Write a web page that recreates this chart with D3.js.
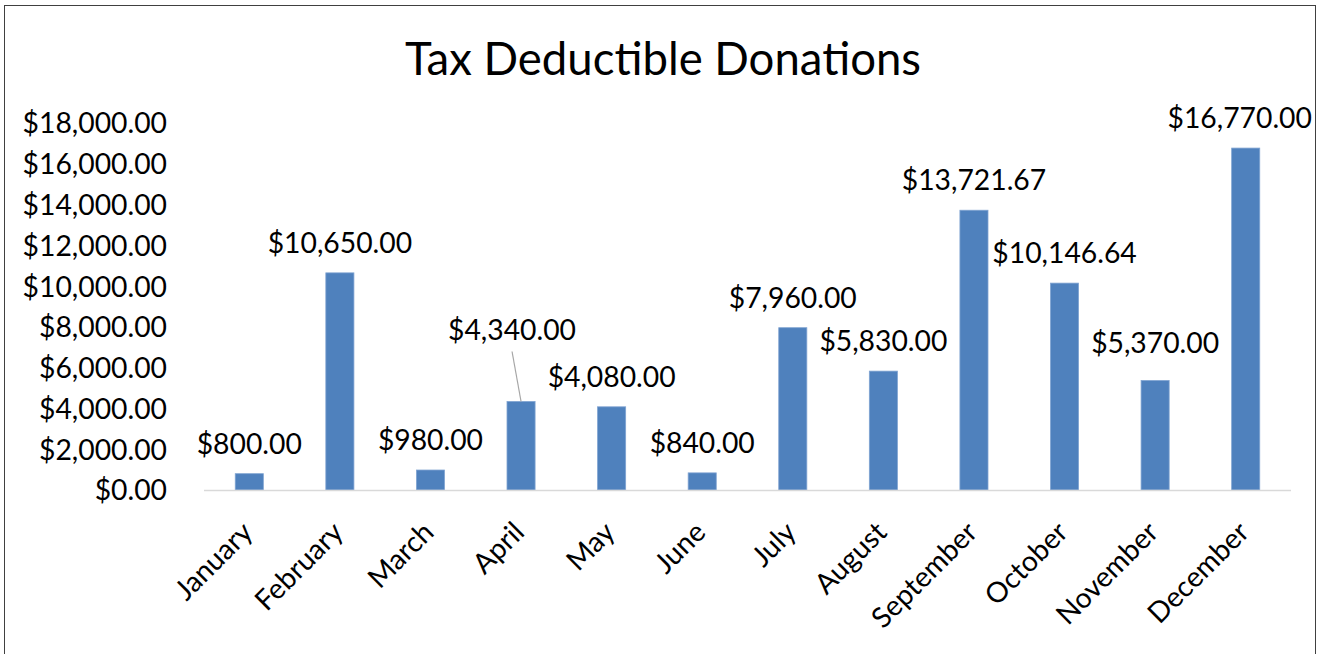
<!DOCTYPE html>
<html lang="en">
<head>
<meta charset="utf-8">
<title>Tax Deductible Donations</title>
<script src="https://cdn.jsdelivr.net/npm/d3@7"></script>
<style>
  body { margin: 0; background: #fff; }
  text { font-family: Lato, "Open Sans", sans-serif; fill: #000; }
</style>
</head>
<body>
<svg id="chart" width="1324" height="654"></svg>
<script>
// chart data
var months = ["January", "February", "March", "April", "May", "June",
              "July", "August", "September", "October", "November", "December"];
var donations = [800, 10650, 980, 4340, 4080, 840, 7960, 5830, 13721.67, 10146.64, 5370, 16770];
var yTicks = [0, 2000, 4000, 6000, 8000, 10000, 12000, 14000, 16000, 18000];

var svg = d3.select("#chart");

// outer border
svg.append("rect")
    .attr("x", 4.5).attr("y", 5.5)
    .attr("width", 1311).attr("height", 660)
    .attr("fill", "none")
    .attr("stroke", "#404040")
    .attr("stroke-width", 1);

// title
svg.append("text")
    .attr("x", 663).attr("y", 75)
    .attr("text-anchor", "middle")
    .style("font-size", "45.5px")
    .text("Tax Deductible Donations");

var x = d3.scaleBand()
    .domain(months)
    .range([204, 1291])
    .paddingInner(0.69)
    .paddingOuter(0.345);

var y = d3.scaleLinear()
    .domain([0, 18000])
    .range([490, 123]);

var money = d3.format("$,.2f");

// y axis labels, no line
var yAxis = svg.append("g")
    .attr("transform", "translate(167,0)")
    .call(d3.axisLeft(y).tickValues(yTicks).tickFormat(money).tickSize(0).tickPadding(0));
yAxis.select(".domain").remove();
yAxis.selectAll("text")
    .style("font-size", "28.3px")
    .attr("dy", "0.35em");

// bars
svg.selectAll("rect.bar")
    .data(donations)
    .enter()
    .append("rect")
    .attr("class", "bar")
    .attr("x", function(d, i) { return x(months[i]); })
    .attr("y", function(d) { return y(d); })
    .attr("width", x.bandwidth())
    .attr("height", function(d) { return y(0) - y(d); })
    .attr("fill", "#4f81bd")
    .attr("stroke", "#7fa3d1")
    .attr("stroke-width", 0.8);

// category axis line
svg.append("line")
    .attr("x1", 204).attr("x2", 1291)
    .attr("y1", y(0) + 0.5).attr("y2", y(0) + 0.5)
    .attr("stroke", "#d9d9d9")
    .attr("stroke-width", 1.5);

// month labels, rotated
svg.selectAll("text.month")
    .data(months)
    .enter()
    .append("text")
    .attr("class", "month")
    .attr("text-anchor", "end")
    .style("font-size", "28.3px")
    .attr("transform", function(d) {
        var cx = x(d) + x.bandwidth() / 2;
        return "translate(" + (cx + 5) + "," + 534 + ") rotate(-45)";
    })
    .text(function(d) { return d; });

// a few labels were dragged in the original
var nudge = { "April": [-9, -42], "November": [0, -8], "December": [-6, 0] };

svg.selectAll("text.value")
    .data(donations)
    .enter()
    .append("text")
    .attr("class", "value")
    .attr("text-anchor", "middle")
    .style("font-size", "28.3px")
    .attr("x", function(d, i) {
        var n = nudge[months[i]] || [0, 0];
        return x(months[i]) + x.bandwidth() / 2 + n[0];
    })
    .attr("y", function(d, i) {
        var n = nudge[months[i]] || [0, 0];
        return y(d) - 20 + n[1];
    })
    .text(function(d) { return money(d); });

// leader line for April
var ai = months.indexOf("April");
svg.append("line")
    .attr("x1", x("April") + x.bandwidth() / 2 - 9)
    .attr("y1", y(donations[ai]) - 50)
    .attr("x2", x("April") + x.bandwidth() / 2)
    .attr("y2", y(donations[ai]))
    .attr("stroke", "#a6a6a6")
    .attr("stroke-width", 1.2);
</script>
</body>
</html>
